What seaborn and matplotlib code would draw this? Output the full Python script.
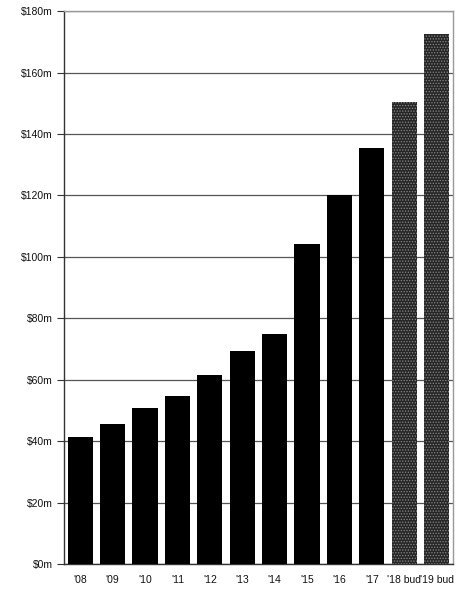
import matplotlib
matplotlib.use("Agg")
import matplotlib.pyplot as plt
import seaborn as sns
import pandas as pd

years = ["'08", "'09", "'10", "'11", "'12", "'13", "'14", "'15", "'16", "'17", "'18 bud", "'19 bud"]
revenue = [41.5, 45.5, 50.8, 54.7, 61.5, 69.5, 75.0, 104.3, 120.0, 135.6, 150.3, 172.7]
budgeted = [False] * 10 + [True] * 2
y_ticks = list(range(0, 181, 20))
y_labels = [f"${v}m" for v in y_ticks]

sns.set_theme(style="white")
plt.rcParams["font.family"] = ["Liberation Sans", "DejaVu Sans"]
plt.rcParams["hatch.color"] = "#8a8a8a"
plt.rcParams["hatch.linewidth"] = 0.6

df = pd.DataFrame({"year": years, "revenue": revenue})

fig = plt.figure(figsize=(4.64, 5.90), dpi=100)
ax = fig.add_axes([0.138, 0.044, 0.838, 0.937])

sns.barplot(data=df, x="year", y="revenue", color="black", width=0.78,
            saturation=1, ax=ax, zorder=3)

for patch, bud in zip(ax.patches, budgeted):
    patch.set_edgecolor("none")
    if bud:
        patch.set_facecolor("#262626")
        patch.set_hatch("......")
        patch.set_edgecolor("#8a8a8a")
        patch.set_linewidth(0)

ax.set_ylim(0, 180)
ax.set_xlim(-0.5, len(years) - 0.5)
ax.set_yticks(y_ticks)
ax.set_yticklabels(y_labels, fontsize=7.5, color="#111111")
ax.set_xticks(range(len(years)))
ax.set_xticklabels(years, fontsize=7.5, color="#111111")
ax.tick_params(axis="x", which="major", length=0, pad=8)
ax.set_xticks([i + 0.5 for i in range(len(years) - 1)], minor=True)
ax.tick_params(axis="x", which="minor", length=4, width=0.8, color="#333333", direction="out")
ax.tick_params(axis="y", length=5, width=0.8, color="#333333", direction="out", left=True, pad=3)

ax.yaxis.grid(True, color="#555555", linewidth=0.9, zorder=0)
ax.set_axisbelow(True)
ax.set_xlabel("")
ax.set_ylabel("")

for side in ["left", "bottom"]:
    ax.spines[side].set_color("#333333")
    ax.spines[side].set_linewidth(1.0)
for side in ["top", "right"]:
    ax.spines[side].set_color("#999999")
    ax.spines[side].set_linewidth(1.0)

fig.savefig("out.png", dpi=100)
